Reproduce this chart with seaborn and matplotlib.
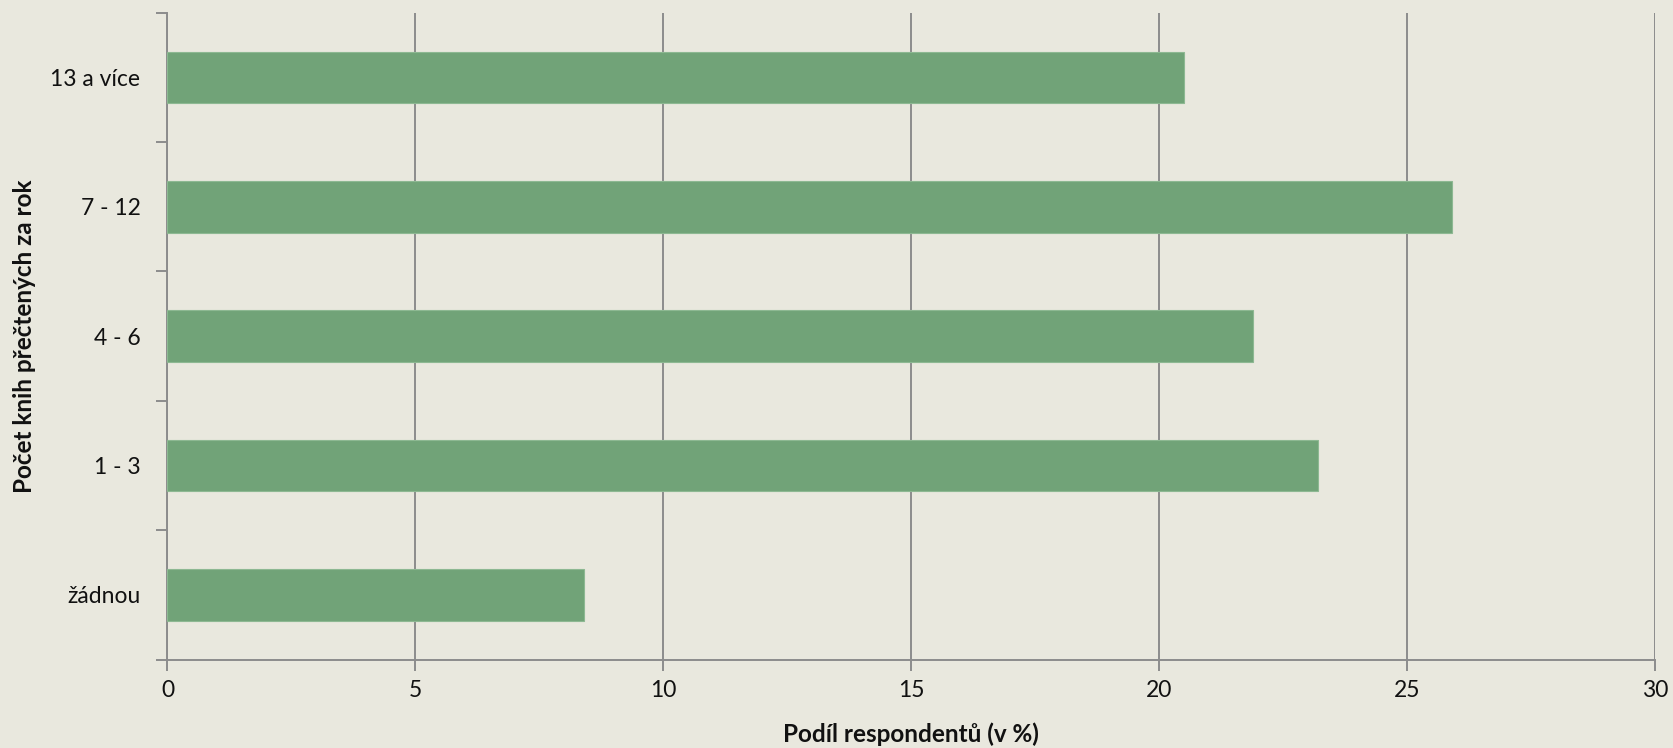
import numpy as np
import pandas as pd
import seaborn as sns
import matplotlib.pyplot as plt
from matplotlib.ticker import FixedLocator

categories = ["13 a více", "7 - 12", "4 - 6", "1 - 3", "žádnou"]
shares = [20.5, 25.9, 21.9, 23.2, 8.4]
x_ticks = [0, 5, 10, 15, 20, 25, 30]

df = pd.DataFrame({"kategorie": categories, "podil": shares})

bg = "#E9E8DE"
grid_col = "#8C8C8C"
bar_col = "#71A378"

sns.set_theme(style="white")
plt.rcParams["font.family"] = ["Lato", "DejaVu Sans"]

fig = plt.figure(figsize=(16.73, 7.48), dpi=100, facecolor=bg)
ax = fig.add_axes([0.1001, 0.1183, 0.8891, 0.8647])
ax.set_facecolor(bg)

sns.barplot(data=df, x="podil", y="kategorie", order=categories, orient="h",
            color=bar_col, saturation=1, width=0.4, edgecolor="#8DB892",
            linewidth=0.8, ax=ax, zorder=3)

ax.set_xlim(0, 30)
ax.set_ylim(len(categories) - 0.5, -0.5)
ax.set_xticks(x_ticks)
ax.set_xticklabels([str(t) for t in x_ticks], fontsize=16.5, color="#111111")
ax.xaxis.grid(True, color=grid_col, linewidth=1.4, zorder=0)
ax.set_axisbelow(True)

ax.tick_params(axis="x", length=8, width=1.4, color=grid_col, pad=7, direction="out", bottom=True)
ax.tick_params(axis="y", which="major", length=0, pad=19.5, labelsize=16.5, labelcolor="#111111")
ax.yaxis.set_minor_locator(FixedLocator(np.arange(-0.5, len(categories), 1.0)))
ax.tick_params(axis="y", which="minor", length=8, width=1.4, color=grid_col, left=True, direction="out")

for s in ["top", "right"]:
    ax.spines[s].set_visible(False)
for s in ["left", "bottom"]:
    ax.spines[s].set_color(grid_col)
    ax.spines[s].set_linewidth(1.4)

ax.set_xlabel("Podíl respondentů (v %)", fontsize=17.5, fontweight="bold", labelpad=15, color="#111111")
ax.set_ylabel("Počet knih přečtených za rok", fontsize=17.5, fontweight="bold", labelpad=10, color="#111111")

fig.savefig("out.png", dpi=100, facecolor=bg)
